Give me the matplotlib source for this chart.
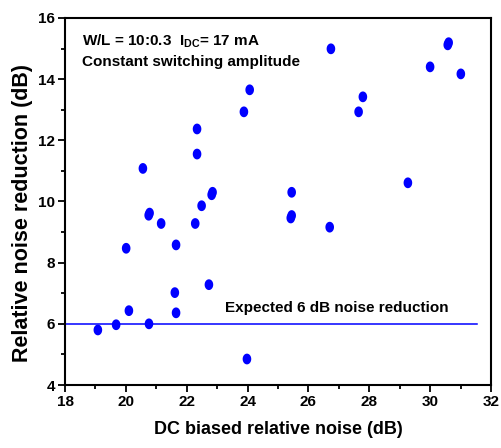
import numpy as np
import matplotlib
matplotlib.use('Agg')
import matplotlib.pyplot as plt
from matplotlib.path import Path

plt.rcParams['font.family'] = ['Liberation Sans', 'DejaVu Sans']
plt.rcParams['font.weight'] = 'bold'
plt.rcParams['mathtext.fontset'] = 'custom'
plt.rcParams['mathtext.rm'] = 'Liberation Sans:bold'
plt.rcParams['mathtext.bf'] = 'Liberation Sans:bold'

# data (some points overlap almost exactly)
dc_noise = [19.08, 19.68, 20.10, 20.76, 21.61, 21.65, 22.73, 23.98,
            24.07, 23.88, 22.34, 22.34, 20.56, 22.82, 22.85, 22.49,
            20.75, 20.78, 21.16, 22.28, 20.01, 21.65,
            26.74, 30.58, 30.61, 30.00, 31.01, 27.79, 27.65,
            25.45, 25.42, 25.45, 26.70, 29.27]
reduction = [5.80, 5.97, 6.43, 6.00, 7.02, 6.36, 7.28, 4.85,
             13.65, 12.93, 12.37, 11.55, 11.08, 10.22, 10.30, 9.86,
             9.55, 9.62, 9.28, 9.28, 8.47, 8.58,
             14.99, 15.12, 15.19, 14.40, 14.17, 13.42, 12.93,
             10.30, 9.46, 9.54, 9.16, 10.61]
expected = 6
x_ticks = [18, 20, 22, 24, 26, 28, 30, 32]
y_ticks = [4, 6, 8, 10, 12, 14, 16]

# slightly tall ellipse marker, like the original
t = np.linspace(0, 2 * np.pi, 40)
ellipse = Path(np.column_stack([0.4 * np.cos(t), 0.5 * np.sin(t)]), closed=True)

fig = plt.figure(figsize=(5.02, 4.48), dpi=100)
ax = fig.add_axes([0.1295, 0.1406, 0.8485, 0.8194])

ax.plot([18, 31.55], [expected, expected], color='#0000ff', lw=1.1, zorder=1)
ax.scatter(dc_noise, reduction, marker=ellipse, s=60, color='#0000ff',
           edgecolors='none', zorder=2)

ax.set_xlim(18, 32)
ax.set_ylim(4, 16)
ax.set_xticks(x_ticks)
ax.set_yticks(y_ticks)
ax.set_xticks(np.arange(19, 32, 2), minor=True)
ax.set_yticks(np.arange(5, 16, 2), minor=True)
ax.tick_params(which='major', direction='out', length=5, width=1.3, labelsize=11, pad=2)
ax.tick_params(which='minor', direction='out', length=3, width=1.3)
for lbl in ax.get_xticklabels() + ax.get_yticklabels():
    lbl.set_fontweight('bold')
for sp in ax.spines.values():
    sp.set_linewidth(1.5)

ax.set_xlabel('DC biased relative noise (dB)', fontsize=13, fontweight='bold', labelpad=9)
ax.set_ylabel('Relative noise reduction (dB)', fontsize=15.5, fontweight='bold')
ax.yaxis.set_label_coords(-0.076, 0.469)

ax.text(18.55, 15.1, r'W/L = 10:0.3  $\mathbf{I}_{\mathbf{DC}}$= 17 mA',
        fontsize=11, fontweight='bold', va='baseline')
ax.text(18.55, 14.43, 'Constant switching amplitude', fontsize=11,
        fontweight='bold', va='baseline')
ax.text(23.25, 6.4, 'Expected 6 dB noise reduction', fontsize=11,
        fontweight='bold', va='baseline')

fig.savefig('out.png', dpi=100)
